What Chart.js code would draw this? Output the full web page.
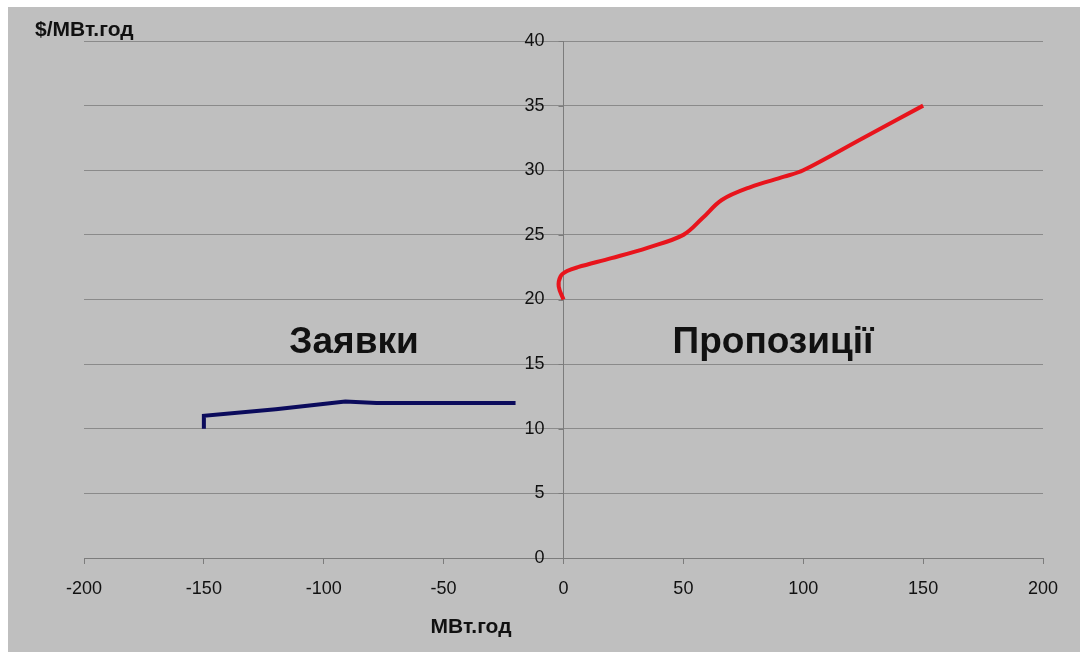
<!DOCTYPE html>
<html>
<head>
<meta charset="utf-8">
<script src="https://cdn.jsdelivr.net/npm/chart.js@4.4.1/dist/chart.umd.min.js"></script>
<style>
  html, body { margin: 0; padding: 0; background: #ffffff; }
  #wrap { width: 1082px; height: 652px; position: relative; }
</style>
</head>
<body>
<div id="wrap"><canvas id="c" width="1082" height="652"></canvas></div>
<script>
// Axis ranges and tick steps
const xTicks = [-200, -150, -100, -50, 0, 50, 100, 150, 200];
const yTicks = [0, 5, 10, 15, 20, 25, 30, 35, 40];

// Bids (demand) curve: MW.h vs $/MW.h
const bidX = [-150, -150, -120, -91, -78, -50, -20];
const bidY = [10.0, 11.0, 11.5, 12.1, 12.0, 12.0, 12.0];

// Offers (supply) curve
const offerX = [0, -2.0, -1.2, 1.5, 6, 20, 35, 50, 58, 66, 78, 92, 100, 125, 150];
const offerY = [20.0, 21.0, 21.8, 22.2, 22.5, 23.2, 24.0, 25.0, 26.3, 27.7, 28.7, 29.5, 30.0, 32.5, 35.0];

const toPoints = (xs, ys) => xs.map((x, i) => ({ x: x, y: ys[i] }));

const FONT = "'Liberation Sans', Arial, sans-serif";

const backdrop = {
  id: 'backdrop',
  beforeDraw(chart) {
    const ctx = chart.ctx;
    ctx.save();
    ctx.fillStyle = '#ffffff';
    ctx.fillRect(0, 0, chart.width, chart.height);
    ctx.fillStyle = '#bfbfbf';
    ctx.fillRect(8, 7, 1072, 645);
    ctx.restore();
  }
};

const labels = {
  id: 'labels',
  afterDraw(chart) {
    const ctx = chart.ctx;
    ctx.save();
    ctx.fillStyle = '#111111';
    ctx.textBaseline = 'middle';
    ctx.font = 'bold 21px ' + FONT;
    ctx.textAlign = 'left';
    ctx.fillText('$/МВт.год', 35, 30);
    ctx.textAlign = 'center';
    ctx.fillText('МВт.год', 471, 627);
    ctx.font = 'bold 37px ' + FONT;
    ctx.textBaseline = 'alphabetic';
    ctx.fillText('Заявки', 354, 353);
    ctx.fillText('Пропозиції', 773, 353);
    ctx.restore();
  }
};

// The value axis sits at x = 0; keep its labels clear of the axis line
// and add the short tick marks to its left.
function offsetCentreAxis(scale) {
  if (scale._centreWrapped) return;
  scale._centreWrapped = true;
  const drawLabels = scale.drawLabels;
  scale.drawLabels = function (area) {
    const ctx = this.ctx;
    ctx.save();
    ctx.translate(-19, 0);
    drawLabels.call(this, area);
    ctx.restore();
    const x0 = this.chart.scales.x.getPixelForValue(0);
    ctx.save();
    ctx.strokeStyle = '#7c7c7c';
    ctx.lineWidth = 1;
    ctx.beginPath();
    this.ticks.forEach(t => {
      const y = Math.round(this.getPixelForValue(t.value)) + 0.5;
      ctx.moveTo(x0 - 5, y);
      ctx.lineTo(x0, y);
    });
    ctx.stroke();
    ctx.restore();
  };
}

new Chart(document.getElementById('c'), {
  type: 'scatter',
  data: {
    datasets: [
      {
        label: 'Заявки',
        data: toPoints(bidX, bidY),
        showLine: true,
        borderColor: '#0b0b5c',
        borderWidth: 4,
        pointRadius: 0,
        tension: 0,
        fill: false
      },
      {
        label: 'Пропозиції',
        data: toPoints(offerX, offerY),
        showLine: true,
        borderColor: '#e8141c',
        borderWidth: 4,
        pointRadius: 0,
        tension: 0.35,
        fill: false
      }
    ]
  },
  options: {
    responsive: false,
    animation: false,
    layout: { padding: { left: 84, right: 39, top: 41, bottom: 0 } },
    plugins: {
      legend: { display: false },
      tooltip: { enabled: false }
    },
    scales: {
      x: {
        type: 'linear',
        min: -200,
        max: 200,
        afterBuildTicks: s => { s.ticks = xTicks.map(v => ({ value: v })); },
        afterFit: s => { s.height = 94; },
        ticks: {
          color: '#111111',
          font: { family: FONT, size: 18 },
          padding: 14,
          maxRotation: 0
        },
        grid: {
          drawOnChartArea: false,
          drawTicks: true,
          tickLength: 6,
          color: '#7c7c7c'
        },
        border: { color: '#7c7c7c', width: 1 }
      },
      y: {
        type: 'linear',
        position: { x: 0 },
        min: 0,
        max: 40,
        afterBuildTicks: s => { s.ticks = yTicks.map(v => ({ value: v })); },
        afterFit: s => { s.width = 0; },
        afterUpdate: offsetCentreAxis,
        ticks: {
          color: '#111111',
          font: { family: FONT, size: 18 },
          padding: 0
        },
        grid: {
          color: '#8a8a8a',
          drawTicks: false
        },
        border: { color: '#7c7c7c', width: 1 }
      }
    }
  },
  plugins: [backdrop, labels]
});
</script>
</body>
</html>
